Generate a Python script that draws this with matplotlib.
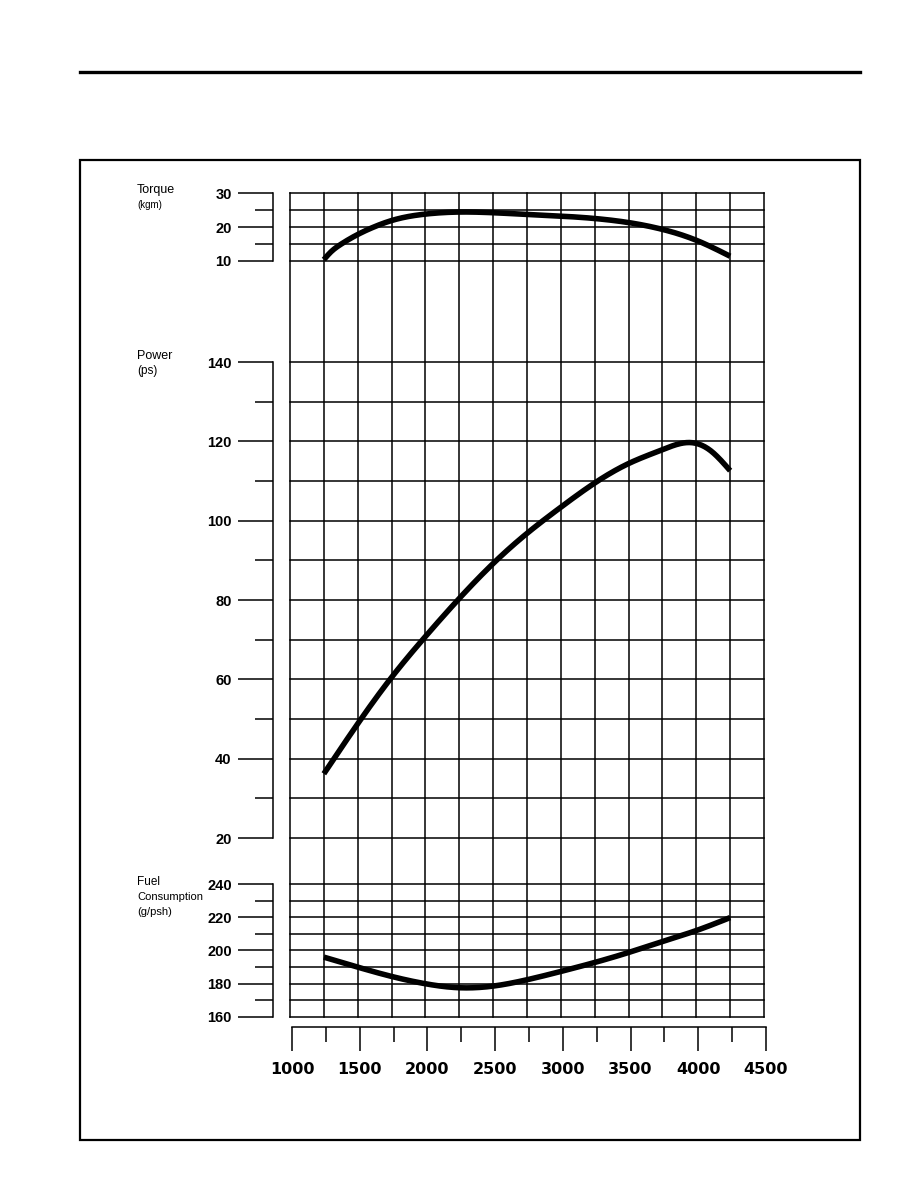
import matplotlib
matplotlib.use("Agg")
import matplotlib.pyplot as plt
import numpy as np
from matplotlib.lines import Line2D
from matplotlib.ticker import MultipleLocator

# ---------------- data ----------------
rpm_ticks = [1000, 1500, 2000, 2500, 3000, 3500, 4000, 4500]

torque_rpm = [1250, 1300, 1375, 1500, 1625, 1750, 2000, 2250, 2500, 2750, 3000, 3250, 3500, 3750, 4000, 4250]
torque_kgm = [10.4, 12.6, 14.9, 17.8, 20.1, 21.9, 23.8, 24.4, 24.2, 23.7, 23.2, 22.5, 21.3, 19.3, 16.1, 11.4]

power_rpm = [1250, 1500, 1750, 2000, 2250, 2500, 2750, 3000, 3250, 3500, 3750, 3950, 4100, 4250]
power_ps = [36.2, 48.8, 60.5, 70.8, 80.4, 89.2, 96.8, 103.4, 109.5, 114.4, 117.9, 119.7, 117.8, 112.6]

fuel_rpm = [1250, 1500, 1750, 2000, 2250, 2500, 2750, 3000, 3250, 3500, 3750, 4000, 4250]
fuel_gpsh = [196.0, 190.0, 184.4, 180.0, 177.6, 178.6, 182.4, 187.4, 192.8, 198.8, 205.4, 212.0, 219.8]

# ---------------- helpers ----------------
W, H = 918, 1188
fig = plt.figure(figsize=(W / 100, H / 100), dpi=100)
plt.rcParams["font.family"] = ["Liberation Sans", "DejaVu Sans"]


def box(x0, y0, x1, y1):
    return [x0 / W, 1 - y1 / H, (x1 - x0) / W, (y1 - y0) / H]


def smooth(x, y, n=400):
    # natural cubic spline through the read points (for drawing only)
    x = np.asarray(x, float)
    y = np.asarray(y, float)
    m = len(x)
    h = np.diff(x)
    A = np.zeros((m, m))
    b = np.zeros(m)
    A[0, 0] = A[-1, -1] = 1
    for i in range(1, m - 1):
        A[i, i - 1] = h[i - 1]
        A[i, i] = 2 * (h[i - 1] + h[i])
        A[i, i + 1] = h[i]
        b[i] = 3 * ((y[i + 1] - y[i]) / h[i] - (y[i] - y[i - 1]) / h[i - 1])
    c = np.linalg.solve(A, b)
    xs = np.linspace(x[0], x[-1], n)
    idx = np.clip(np.searchsorted(x, xs) - 1, 0, m - 2)
    dx = xs - x[idx]
    bb = (y[idx + 1] - y[idx]) / h[idx] - h[idx] * (2 * c[idx] + c[idx + 1]) / 3
    d = (c[idx + 1] - c[idx]) / (3 * h[idx])
    ys = y[idx] + bb * dx + c[idx] * dx ** 2 + d * dx ** 3
    return xs, ys


GX0, GX1 = 290, 764
LW_GRID = 1.1
LW_CURVE = 4.0

# page frame
fig.add_artist(Line2D([80 / W, 860 / W], [1 - 72 / H, 1 - 72 / H], color="black", lw=2.4,
                      transform=fig.transFigure))
frame = plt.Rectangle((80 / W, 1 - 1140 / H), 780 / W, 980 / H, fill=False, lw=1.6,
                      edgecolor="black", transform=fig.transFigure)
fig.add_artist(frame)

# background vertical grid
bg = fig.add_axes(box(GX0, 193, GX1, 1017))
bg.set_xlim(1000, 4500)
bg.set_ylim(0, 1)
for r in np.arange(1000, 4501, 250):
    bg.axvline(r, color="black", lw=LW_GRID, clip_on=False)
bg.axis("off")
bg.patch.set_alpha(0)


def section(y0, y1, lo, hi, major, minor, xr, yr, label_lines, label_y, label_sizes):
    ax = fig.add_axes(box(GX0, y0, GX1, y1))
    ax.patch.set_alpha(0)
    ax.set_xlim(1000, 4500)
    ax.set_ylim(lo, hi)
    for v in np.arange(lo, hi + 0.001, minor):
        ax.axhline(v, color="black", lw=LW_GRID, clip_on=False)
    for s in ["top", "right", "bottom"]:
        ax.spines[s].set_visible(False)
    ax.spines["left"].set_position(("outward", 12))
    ax.spines["left"].set_linewidth(1.1)
    ax.set_xticks([])
    ax.yaxis.set_major_locator(MultipleLocator(major))
    ax.yaxis.set_minor_locator(MultipleLocator(minor))
    ax.tick_params(axis="y", which="major", direction="out", length=25, width=1.1,
                   pad=5, labelsize=10.5)
    ax.tick_params(axis="y", which="minor", direction="out", length=13, width=1.1)
    for t in ax.get_yticklabels():
        t.set_fontweight("bold")
    ax.plot(*smooth(xr, yr), color="black", lw=LW_CURVE, solid_capstyle="butt",
            solid_joinstyle="round", clip_on=False)
    for txt, yy, fs in zip(label_lines, label_y, label_sizes):
        fig.text(137 / W, 1 - yy / H, txt, fontsize=fs, ha="left", va="center")
    return ax


section(193, 261, 10, 30, 10, 5, torque_rpm, torque_kgm,
        ["Torque", "(kgm)"], [190, 205], [9, 7])
section(362, 838, 20, 140, 20, 10, power_rpm, power_ps,
        ["Power", "(ps)"], [356, 371], [9, 8.5])
section(884, 1017, 160, 240, 20, 10, fuel_rpm, fuel_gpsh,
        ["Fuel", "Consumption", "(g/psh)"], [882, 897, 912], [8.5, 8, 8])

# bottom rpm axis
bx = fig.add_axes(box(292, 1027, 766, 1028))
bx.patch.set_alpha(0)
bx.set_xlim(1000, 4500)
bx.set_yticks([])
for s in ["top", "right", "left"]:
    bx.spines[s].set_visible(False)
bx.set_ylim(0, 1)
bx.spines["bottom"].set_position(("data", 1))
bx.spines["bottom"].set_linewidth(1.1)
bx.set_xticks(rpm_ticks)
bx.xaxis.set_minor_locator(MultipleLocator(250))
bx.tick_params(axis="x", which="major", direction="out", length=17, width=1.1, pad=8,
               labelsize=11.5)
bx.tick_params(axis="x", which="minor", direction="out", length=11, width=1.1)
for t in bx.get_xticklabels():
    t.set_fontweight("bold")
    t.set_family(["DejaVu Sans"])

fig.savefig("out.png", dpi=100)
